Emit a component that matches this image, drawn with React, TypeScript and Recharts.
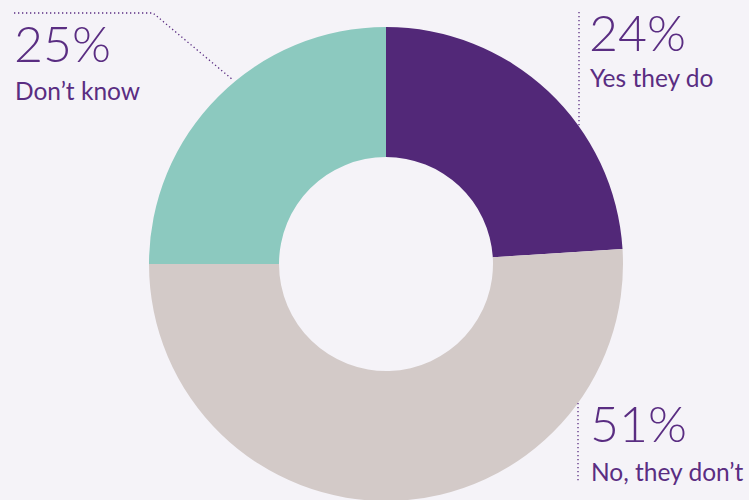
import React from "react";
import { PieChart, Pie, Cell } from "recharts";

const categories = ["Yes they do", "No, they don’t", "Don’t know"];
const values = [24, 51, 25];
const sliceColors = ["#522878", "#d3cac8", "#8cc9bf"];

const data = categories.map((name, i) => ({ name, value: values[i] }));

const TEXT_COLOR = "#5a2d82";
const FONT = "Lato, 'Noto Sans', sans-serif";

// label placement (style config)
const labelLayout = [
  { tx: 589, pctY: 51, nameY: 87, lineX: 579, lineTop: 12, kind: "up" },
  { tx: 590, pctY: 442, nameY: 481, lineX: 578, lineBottom: 481, kind: "down" },
  { tx: 14, pctY: 62, nameY: 100, hx0: 14, hx1: 153, hy: 13, ex: 233, ey: 80, kind: "elbow" },
];

const renderLabel = (props: any) => {
  const { index, cx, cy, outerRadius } = props;
  const L: any = labelLayout[index];
  const pct = `${values[index]}%`;
  let line: React.ReactNode = null;
  const dot = { stroke: TEXT_COLOR, strokeWidth: 1.3, strokeDasharray: "1.3 2.7", fill: "none" };
  if (L.kind === "up") {
    const dx = L.lineX - cx;
    const yEdge = cy - Math.sqrt(outerRadius * outerRadius - dx * dx);
    line = <line x1={L.lineX} y1={L.lineTop} x2={L.lineX} y2={yEdge} {...dot} />;
  } else if (L.kind === "down") {
    const dx = L.lineX - cx;
    const yEdge = cy + Math.sqrt(outerRadius * outerRadius - dx * dx);
    line = <line x1={L.lineX} y1={yEdge} x2={L.lineX} y2={L.lineBottom} {...dot} />;
  } else {
    line = <polyline points={`${L.hx0},${L.hy} ${L.hx1},${L.hy} ${L.ex},${L.ey}`} {...dot} />;
  }
  return (
    <g key={`lbl-${index}`}>
      {line}
      <text x={L.tx} y={L.pctY} fill={TEXT_COLOR} fontFamily={FONT} fontWeight={300} fontSize={50}>
        {pct}
      </text>
      <text x={L.tx + 1} y={L.nameY} fill={TEXT_COLOR} fontFamily={FONT} fontWeight={400} fontSize={24.5}>
        {categories[index]}
      </text>
    </g>
  );
};

export default function App() {
  return (
    <div style={{ position: "absolute", left: 0, top: 0, width: 749, height: 500, background: "#f5f3f8", overflow: "hidden" }}>
      <PieChart width={749} height={500} margin={{ top: 0, right: 0, bottom: 0, left: 0 }}>
        <Pie
          data={data}
          dataKey="value"
          nameKey="name"
          cx={386}
          cy={264}
          outerRadius={237}
          innerRadius={107}
          startAngle={90}
          endAngle={-270}
          stroke="none"
          isAnimationActive={false}
          label={renderLabel}
          labelLine={false}
        >
          {data.map((d, i) => (
            <Cell key={d.name} fill={sliceColors[i]} />
          ))}
        </Pie>
      </PieChart>
    </div>
  );
}
